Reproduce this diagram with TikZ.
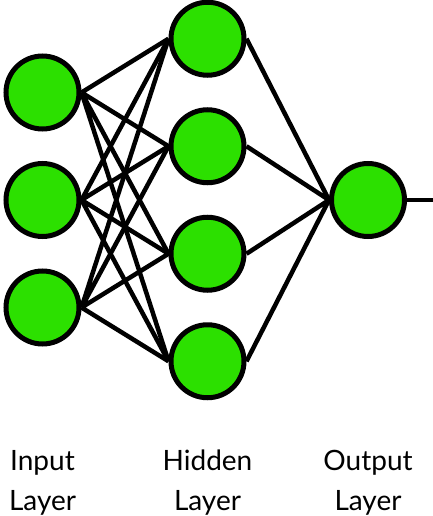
\documentclass[tikz,border=0pt]{standalone}
\usepackage{fontspec}
\setmainfont{Lato}
\usetikzlibrary{positioning}
\definecolor{neurongreen}{RGB}{44,224,0}

\begin{document}
\begin{tikzpicture}[
    x=1pt,y=1pt,
    node distance=107.5pt and 165pt, on grid,
    neuron/.style={circle,draw,line width=5pt,fill=neurongreen,minimum size=73pt,inner sep=0pt},
    conn/.style={line width=4.5pt},
    lbl/.style={align=center,font=\fontsize{28}{40}\selectfont}
]
\useasboundingbox (0,0) rectangle (433,-516);

% input layer
\node[neuron] (in2) at (42.5,-200) {};
\node[neuron,above=of in2] (in1) {};
\node[neuron,below=of in2] (in3) {};

% hidden layer
\node[neuron] (hid2) at (207.5,-146.25) {};
\node[neuron,above=of hid2] (hid1) {};
\node[neuron,below=of hid2] (hid3) {};
\node[neuron,below=of hid3] (hid4) {};

% output layer
\node[neuron] (out) at (368,-200) {};
\coordinate (outend) at (433,-200);

\draw[conn] (in1.east) -- (hid1.west) (in1.east) -- (hid2.west)
            (in1.east) -- (hid3.west) (in1.east) -- (hid4.west);
\draw[conn] (in2.east) -- (hid1.west) (in2.east) -- (hid2.west)
            (in2.east) -- (hid3.west) (in2.east) -- (hid4.west);
\draw[conn] (in3.east) -- (hid1.west) (in3.east) -- (hid2.west)
            (in3.east) -- (hid3.west) (in3.east) -- (hid4.west);
\draw[conn] (hid1.east) -- (out.west) (hid2.east) -- (out.west)
            (hid3.east) -- (out.west) (hid4.east) -- (out.west);
\draw[conn] (out.east) -- (outend);

\node[lbl,anchor=base] (inlbl) at (42.5,-510) {Input\\Layer};
\node[lbl,anchor=base] (hidlbl) at (207.5,-510) {Hidden\\Layer};
\node[lbl,anchor=base] (outlbl) at (368,-510) {Output\\Layer};
\end{tikzpicture}
\end{document}
